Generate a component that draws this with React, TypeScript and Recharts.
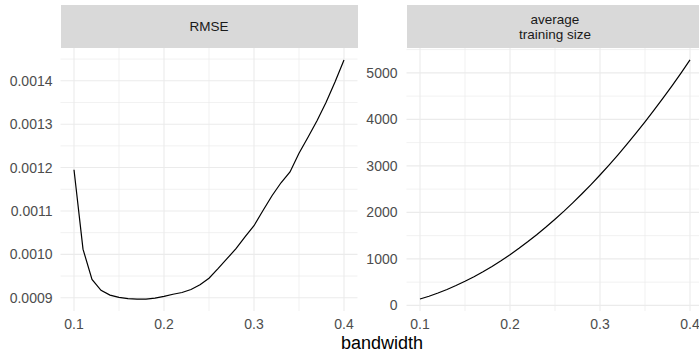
import { CartesianGrid, Line, LineChart, XAxis, YAxis } from 'recharts';

// bandwidth steps 0.10 .. 0.40
const bandwidth = [
    0.1, 0.11, 0.12, 0.13, 0.14, 0.15, 0.16, 0.17, 0.18, 0.19, 0.2, 0.21, 0.22, 0.23, 0.24, 0.25, 0.26, 0.27, 0.28, 0.29,
    0.3, 0.31, 0.32, 0.33, 0.34, 0.35, 0.36, 0.37, 0.38, 0.39, 0.4,
];

const rmse = [
    0.001195, 0.001012, 0.000942, 0.000917, 0.000906, 0.000901, 0.000898, 0.000897, 0.000897, 0.000899, 0.000903,
    0.000908, 0.000912, 0.000919, 0.00093, 0.000945, 0.000967, 0.00099, 0.001013, 0.00104, 0.001066, 0.001101,
    0.001135, 0.001165, 0.00119, 0.001233, 0.00127, 0.001308, 0.00135, 0.001397, 0.001448,
];

const trainingSize = [
    136, 197, 266, 342, 426, 518, 617, 724, 838, 960, 1090, 1227, 1372, 1524, 1684, 1852, 2027, 2210, 2400, 2598, 2804,
    3017, 3238, 3466, 3702, 3946, 4197, 4456, 4722, 4996, 5278,
];

const xTicks = [0.1, 0.2, 0.3, 0.4];
const xMinor = [0.15, 0.25, 0.35];
const rmseTicks = [0.0009, 0.001, 0.0011, 0.0012, 0.0013, 0.0014];
const rmseMinor = [0.00095, 0.00105, 0.00115, 0.00125, 0.00135, 0.00145];
const sizeTicks = [0, 1000, 2000, 3000, 4000, 5000];
const sizeMinor = [500, 1500, 2500, 3500, 4500, 5500];

const rows = bandwidth.map((b, i) => ({ bandwidth: b, rmse: rmse[i], size: trainingSize[i] }));

const FONT = '"Liberation Sans", Arial, sans-serif';
const tickStyle = { fontSize: 14, fill: '#4d4d4d', fontFamily: FONT };

function Strip({ left, width, children }: { left: number; width: number; children: React.ReactNode }) {
    return (
        <div
            style={{
                position: 'absolute',
                left,
                top: 5,
                width,
                height: 43,
                background: '#d9d9d9',
                color: '#1a1a1a',
                fontFamily: FONT,
                fontSize: 13.5,
                lineHeight: '15px',
                display: 'flex',
                alignItems: 'center',
                justifyContent: 'center',
                textAlign: 'center',
            }}
        >
            <div>{children}</div>
        </div>
    );
}

function Panel({
    left,
    width,
    yWidth,
    rightMargin,
    dataKey,
    domain,
    ticks,
    minor,
    fmt,
    labelGap,
}: {
    left: number;
    width: number;
    yWidth: number;
    rightMargin: number;
    dataKey: string;
    domain: [number, number];
    ticks: number[];
    minor: number[];
    fmt: (v: number) => string;
    labelGap: number;
}) {
    return (
        <div style={{ position: 'absolute', left, top: 0 }}>
            <LineChart width={width} height={352} data={rows} margin={{ top: 48, right: rightMargin, bottom: 0, left: 0 }}>
                <CartesianGrid stroke="#ebebeb" strokeWidth={0.7} horizontalValues={minor} verticalValues={xMinor} />
                <CartesianGrid stroke="#ebebeb" strokeWidth={1.1} horizontalValues={ticks} verticalValues={xTicks} />
                <XAxis
                    dataKey="bandwidth"
                    type="number"
                    domain={[0.085, 0.415]}
                    ticks={xTicks}
                    interval={0}
                    tickFormatter={(v: number) => v.toFixed(1)}
                    axisLine={false}
                    tickLine={false}
                    tickSize={0}
                    tickMargin={8}
                    height={41}
                    tick={tickStyle}
                />
                <YAxis
                    type="number"
                    domain={domain}
                    ticks={ticks}
                    interval={0}
                    allowDataOverflow
                    tickFormatter={fmt}
                    axisLine={false}
                    tickLine={false}
                    tickSize={0}
                    tickMargin={labelGap}
                    width={yWidth}
                    tick={tickStyle}
                />
                <Line dataKey={dataKey} type="linear" stroke="#000" strokeWidth={1.2} dot={false} isAnimationActive={false} />
            </LineChart>
        </div>
    );
}

export default function App() {
    return (
        <div style={{ position: 'absolute', left: 0, top: 0, width: 699, height: 352, overflow: 'hidden', background: '#fff' }}>
            <Strip left={60.5} width={297}>RMSE</Strip>
            <Strip left={406.5} width={297}>
                average
                <br />
                training size
            </Strip>
            <Panel
                left={0}
                width={360}
                yWidth={60.5}
                rightMargin={2.5}
                dataKey="rmse"
                domain={[0.0008694, 0.0014756]}
                ticks={rmseTicks}
                minor={rmseMinor}
                fmt={(v) => v.toFixed(4)}
                labelGap={8}
            />
            <Panel
                left={340}
                width={364}
                yWidth={66.5}
                rightMargin={0.5}
                dataKey="size"
                domain={[-121, 5535]}
                ticks={sizeTicks}
                minor={sizeMinor}
                fmt={(v) => String(v)}
                labelGap={9}
            />
            <div
                style={{
                    position: 'absolute',
                    left: 282,
                    width: 200,
                    top: 333,
                    height: 20,
                    textAlign: 'center',
                    fontFamily: FONT,
                    fontSize: 18,
                    lineHeight: '20px',
                    color: '#000',
                }}
            >
                bandwidth
            </div>
        </div>
    );
}
